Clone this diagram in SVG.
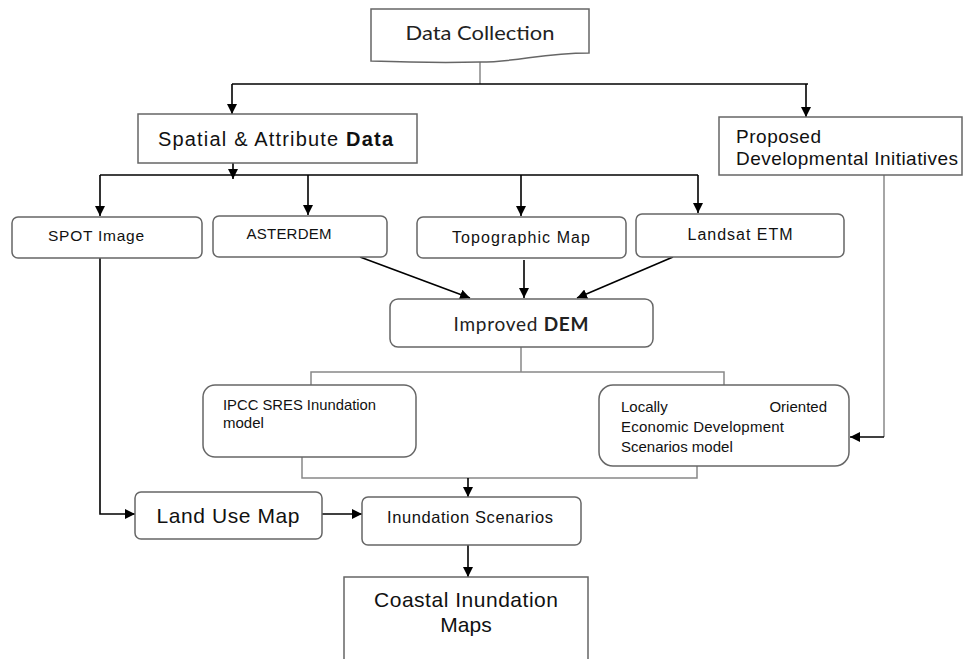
<svg xmlns="http://www.w3.org/2000/svg" width="964" height="659" viewBox="0 0 964 659">
<style>
.box{fill:#fff;stroke:#666;stroke-width:1.5}
.ln{fill:none;stroke:#000;stroke-width:1.6}
.gl{fill:none;stroke:#888;stroke-width:1.5}
.ar{fill:none;stroke:#000;stroke-width:1.6;marker-end:url(#ah)}
text{font-family:"Liberation Sans",Arial,sans-serif;fill:#111}
.cal{font-family:Lato,"Open Sans",sans-serif;fill:#222}
</style>
<defs>
<marker id="ah" viewBox="0 0 10 10" refX="10" refY="5" markerWidth="10" markerHeight="10" markerUnits="userSpaceOnUse" orient="auto">
<path d="M0,0 L10,5 L0,10 z" fill="#000"/>
</marker>
</defs>
<rect width="964" height="659" fill="#fff"/>
<g id="connectors">
<line class="gl" x1="480" y1="62" x2="480" y2="84"/>
<line class="ln" x1="232" y1="84" x2="808" y2="84"/>
<path class="ar" d="M232,84 V114"/>
<path class="ar" d="M806,84 V117"/>
<path class="ar" d="M233,163 V179"/>
<line class="ln" x1="100" y1="175" x2="698" y2="175"/>
<path class="ar" d="M100,175 V216"/>
<path class="ar" d="M308,175 V215"/>
<path class="ar" d="M521,175 V216"/>
<path class="ar" d="M698,175 V213"/>
<path class="ar" d="M360,257 L470,298"/>
<path class="ar" d="M524,260 V298"/>
<path class="ar" d="M673,257 L577,298"/>
<path class="gl" d="M521,347 V372 M311,385 V372 H724 V385"/>
<path class="gl" d="M302,457 V478 H697 V466"/>
<path class="ar" d="M468,478 V497"/>
<path class="gl" d="M884,175 V437"/>
<path class="ar" d="M884,437 H850"/>
<path class="ar" d="M100,258 V514 H135"/>
<path class="ar" d="M322,514 H362"/>
<path class="ar" d="M468,545 V577"/>
</g>
<g id="data-collection">
<path class="box" d="M371,9 H589 V53 C540,53 520,62 480,62 C440,63 400,62 371,61 Z"/>
<text class="cal" x="480" y="40" font-size="19" text-anchor="middle" textLength="149" lengthAdjust="spacingAndGlyphs">Data Collection</text>
</g>
<g id="spatial">
<rect class="box" x="138" y="114" width="279" height="49"/>
<text x="158" y="146" font-size="20" textLength="235" lengthAdjust="spacing">Spatial &amp; Attribute <tspan font-weight="bold">Data</tspan></text>
</g>
<g id="proposed">
<rect class="box" x="719" y="117" width="243" height="58"/>
<text x="736" y="143" font-size="19" textLength="85" lengthAdjust="spacing">Proposed</text>
<text x="736" y="165" font-size="19" textLength="222" lengthAdjust="spacing">Developmental Initiatives</text>
</g>
<g id="spot">
<rect class="box" x="12" y="217" width="190" height="41" rx="6"/>
<text x="96" y="241" font-size="15.5" text-anchor="middle" textLength="96" lengthAdjust="spacing">SPOT Image</text>
</g>
<g id="asterdem">
<rect class="box" x="213" y="216" width="174" height="41" rx="6"/>
<text x="289" y="239" font-size="15" text-anchor="middle" textLength="85" lengthAdjust="spacing">ASTERDEM</text>
</g>
<g id="topographic">
<rect class="box" x="417" y="217" width="209" height="41" rx="6"/>
<text x="521" y="243" font-size="16" text-anchor="middle" textLength="138" lengthAdjust="spacing">Topographic Map</text>
</g>
<g id="landsat">
<rect class="box" x="636" y="214" width="208" height="43" rx="6"/>
<text x="740" y="240" font-size="16" text-anchor="middle" textLength="105" lengthAdjust="spacing">Landsat ETM</text>
</g>
<g id="improved-dem">
<rect class="box" x="390" y="299" width="263" height="48" rx="8"/>
<text class="cal" x="521" y="331" font-size="19" text-anchor="middle" textLength="135" lengthAdjust="spacing">Improved <tspan font-weight="bold">DEM</tspan></text>
</g>
<g id="ipcc">
<rect class="box" x="203" y="385" width="213" height="72" rx="12"/>
<text x="223" y="410" font-size="15" textLength="153" lengthAdjust="spacingAndGlyphs">IPCC SRES Inundation</text>
<text x="223" y="428" font-size="15">model</text>
</g>
<g id="locally">
<rect class="box" x="599" y="385" width="250" height="81" rx="14"/>
<text x="621" y="412" font-size="15">Locally</text>
<text x="827" y="412" font-size="15" text-anchor="end">Oriented</text>
<text x="621" y="432" font-size="15" textLength="163" lengthAdjust="spacing">Economic Development</text>
<text x="621" y="452" font-size="15">Scenarios model</text>
</g>
<g id="land-use">
<rect class="box" x="135" y="492" width="187" height="47" rx="6"/>
<text x="228" y="523" font-size="21" text-anchor="middle" textLength="143" lengthAdjust="spacing">Land Use Map</text>
</g>
<g id="inundation-scenarios">
<rect class="box" x="362" y="497" width="219" height="48" rx="6"/>
<text x="470" y="523" font-size="16.5" text-anchor="middle" textLength="166" lengthAdjust="spacing">Inundation Scenarios</text>
</g>
<g id="coastal">
<path class="box" d="M344,665 V577 H588 V665"/>
<text x="466" y="607" font-size="21" text-anchor="middle" textLength="184" lengthAdjust="spacing">Coastal Inundation</text>
<text x="466" y="632" font-size="21" text-anchor="middle">Maps</text>
</g>
</svg>
